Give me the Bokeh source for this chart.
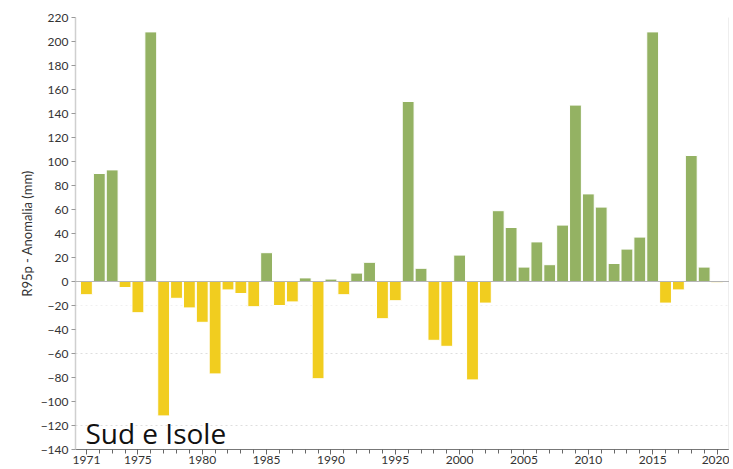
from bokeh.plotting import figure
from bokeh.models import (ColumnDataSource, FixedTicker, LinearAxis, Span, Label,
                          Range1d, CustomJSTickFormatter)
from bokeh.embed import file_html
from bokeh.resources import INLINE

years = list(range(1971, 2021))
anomaly = [
    -11, 90, 93, -5, -26, 208, -112, -14, -22, -34,
    -77, -7, -10, -21, 24, -20, -17, 3, -81, 2,
    -11, 7, 16, -31, -16, 150, 11, -49, -54, 22,
    -82, -18, 59, 45, 12, 33, 14, 47, 147, 73,
    62, 15, 27, 37, 208, -18, -7, 105, 12, -1,
]
x_ticks = [1971, 1975, 1980, 1985, 1990, 1995, 2000, 2005, 2010, 2015, 2020]
y_ticks = list(range(-140, 221, 20))
region = "Sud e Isole"
y_label = "R95p - Anomalia (mm)"

GREEN = "#94b263"
YELLOW = "#f1cd1f"
colors = [GREEN if v >= 0 else YELLOW for v in anomaly]
src = ColumnDataSource(dict(x=years, top=anomaly, color=colors))

p = figure(
    output_backend="svg", toolbar_location=None,
    frame_width=654, frame_height=432,
    x_range=Range1d(1970.15, 2020.97), y_range=Range1d(-140, 220),
    min_border_left=75, min_border_top=17, min_border_right=0, min_border_bottom=0,
    x_axis_type=None, y_axis_type=None,
)
p.outline_line_color = None
p.background_fill_color = "white"
p.border_fill_color = "white"

FONT = "Lato"

for loc, col in [(-20, "#f0f0f0"), (-60, "#dedede"), (-120, "#dedede")]:
    p.add_layout(Span(location=loc, dimension="width", line_color=col,
                      line_dash="2 3", line_width=1, level="underlay"))

p.vbar(x="x", top="top", bottom=0, width=0.92, fill_color="color",
       line_color="white", line_width=1, source=src)

p.add_layout(Span(location=0, dimension="width", line_color="#b4b4b4", line_width=1.2))

yax = LinearAxis(ticker=FixedTicker(ticks=y_ticks))
yax.axis_line_color = "#cfcfcf"
yax.axis_line_width = 1.5
yax.major_tick_line_color = "#999999"
yax.major_tick_out = 4
yax.major_tick_in = 0
yax.minor_tick_line_color = None
yax.major_label_text_font = FONT
yax.major_label_text_font_size = "12px"
yax.major_label_text_color = "#333333"
yax.major_label_standoff = 3
yax.axis_label = y_label
yax.axis_label_text_font = FONT
yax.axis_label_text_font_size = "13px"
yax.axis_label_text_font_style = "normal"
yax.axis_label_text_color = "#333333"
yax.axis_label_standoff = 3
p.add_layout(yax, "left")

xax = LinearAxis(ticker=FixedTicker(ticks=x_ticks, minor_ticks=years))
xax.axis_line_color = "#777777"
xax.major_tick_line_color = "#666666"
xax.major_tick_out = 5
xax.major_tick_in = 0
xax.minor_tick_line_color = "#666666"
xax.minor_tick_out = 4
xax.minor_tick_in = 0
xax.major_label_text_font = FONT
xax.major_label_text_font_size = "12px"
xax.major_label_text_color = "#333333"
xax.major_label_standoff = 1
xax.formatter = CustomJSTickFormatter(code="return tick.toFixed(0);")
p.add_layout(xax, "below")

rax = LinearAxis(ticker=FixedTicker(ticks=[]))
rax.axis_line_color = "#dddddd"
rax.axis_line_width = 2
rax.major_tick_line_color = None
rax.minor_tick_line_color = None
rax.major_label_text_font_size = "0px"
p.add_layout(rax, "right")

p.add_layout(Label(x=years[0], y=-126, text=region, text_font="Open Sans",
                   text_font_size="28px", text_color="#111111",
                   text_baseline="alphabetic", text_align="left", x_offset=-1))

open("out.html", "w").write(file_html(p, INLINE))
